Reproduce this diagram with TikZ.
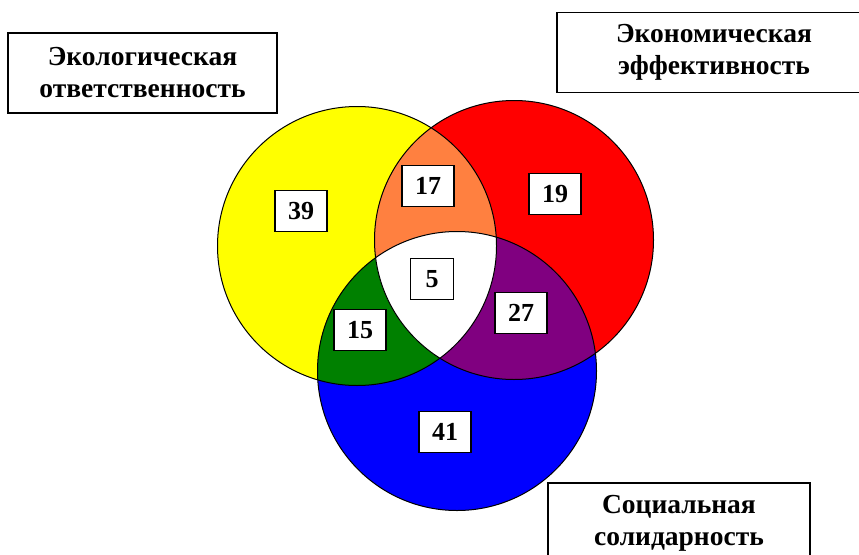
\documentclass[tikz,border=0pt]{standalone}
\usepackage{fontspec}
\setmainfont{Liberation Serif}
\definecolor{vyellow}{RGB}{255,255,0}
\definecolor{vred}{RGB}{255,0,0}
\definecolor{vblue}{RGB}{0,0,255}
\definecolor{vorange}{RGB}{255,128,64}
\definecolor{vgreen}{RGB}{0,128,0}
\definecolor{vpurple}{RGB}{128,0,128}
\begin{document}
\begin{tikzpicture}[x=1pt, y=-1pt,
  num/.style={draw, fill=white, line width=1.5pt, inner xsep=13pt,
    minimum width=43pt, minimum height=41pt, font=\fontsize{26}{30}\selectfont\bfseries},
  lbl/.style={draw, line width=1.5pt, align=center, minimum height=80pt,
    font=\fontsize{27.5}{32}\selectfont\bfseries}]
  \useasboundingbox (0,0) rectangle (859,554);
  \def\rad{139.5pt}
  \coordinate (Y) at (357,246);
  \coordinate (R) at (514,240);
  \coordinate (B) at (457,371);

  \fill[vyellow] (Y) circle (\rad);
  \fill[vred] (R) circle (\rad);
  \fill[vblue] (B) circle (\rad);
  \begin{scope}
    \clip (Y) circle (\rad);
    \fill[vorange] (R) circle (\rad);
    \fill[vgreen] (B) circle (\rad);
    \clip (R) circle (\rad);
    \fill[white] (B) circle (\rad);
  \end{scope}
  \begin{scope}
    \clip (R) circle (\rad);
    \clip (B) circle (\rad);
    \fill[vpurple] (B) circle (\rad);
    \clip (Y) circle (\rad);
    \fill[white] (B) circle (\rad);
  \end{scope}
  \draw[line width=1pt] (Y) circle (\rad);
  \draw[line width=1pt] (R) circle (\rad);
  \draw[line width=1pt] (B) circle (\rad);

  \node[num] (n39) at (301,211) {39};
  \node[num] (n17) at (428,186) {17};
  \node[num] (n19) at (555,194) {19};
  \node[num] (n5) at (432,279) {5};
  \node[num] (n15) at (360,330) {15};
  \node[num] (n27) at (521,313) {27};
  \node[num] (n41) at (445,432) {41};

  \node[lbl, minimum width=269pt] (eco) at (142.5,73) {Экологическая\\ответственность};
  \node[lbl, minimum width=314pt] (econ) at (714,52.5) {Экономическая\\эффективность};
  \node[lbl, minimum width=262pt] (soc) at (679,523) {Социальная\\солидарность};
\end{tikzpicture}
\end{document}
